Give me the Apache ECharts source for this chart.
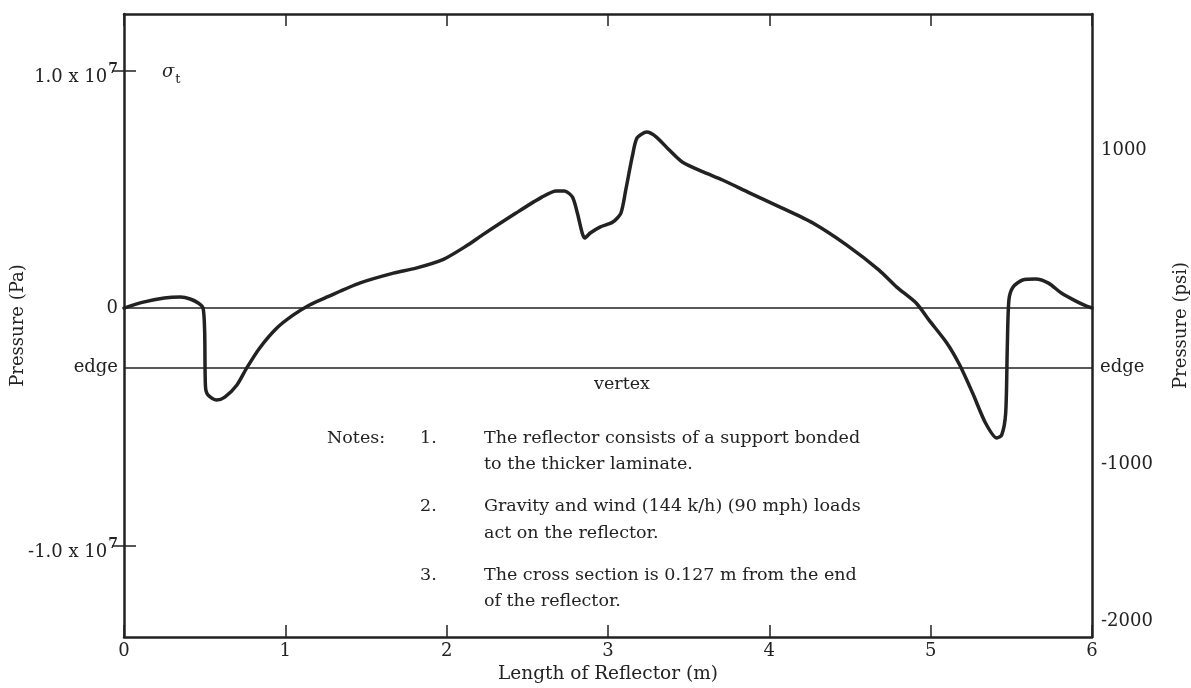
<!DOCTYPE html>
<html>
<head>
<meta charset="utf-8">
<script src="https://cdn.jsdelivr.net/npm/echarts@6/dist/echarts.min.js"></script>
<style>
html,body{margin:0;padding:0;background:#fff;overflow:hidden;}
#chart{width:1191px;height:688px;}
</style>
</head>
<body>
<div id="chart"></div>
<script>
// Length along reflector (m)
const lengthM = [0, 0.12, 0.25, 0.35, 0.41, 0.46, 0.49, 0.50, 0.505, 0.52, 0.574, 0.625, 0.70, 0.76, 0.84, 0.946, 1.05, 1.15, 1.26, 1.46, 1.67, 1.81, 1.98, 2.13, 2.22, 2.43, 2.59, 2.68, 2.73, 2.78, 2.81, 2.84, 2.855, 2.89, 2.95, 3.03, 3.08, 3.11, 3.15, 3.18, 3.24, 3.30, 3.38, 3.46, 3.59, 3.71, 3.88, 4.08, 4.27, 4.48, 4.68, 4.79, 4.91, 4.99, 5.10, 5.18, 5.26, 5.34, 5.41, 5.44, 5.465, 5.475, 5.485, 5.51, 5.57, 5.65, 5.73, 5.81, 5.90, 5.96, 6.0];
// Pressure sigma_t (units of 1e6 Pa)
const pressure = [0, 0.25, 0.42, 0.46, 0.38, 0.21, 0.0, -1.0, -3.3, -3.66, -3.87, -3.75, -3.24, -2.53, -1.69, -0.85, -0.29, 0.13, 0.47, 1.05, 1.47, 1.68, 2.05, 2.65, 3.07, 4.0, 4.67, 4.93, 4.93, 4.67, 4.0, 3.16, 2.95, 3.16, 3.41, 3.62, 4.0, 4.97, 6.36, 7.16, 7.41, 7.2, 6.65, 6.15, 5.73, 5.39, 4.84, 4.21, 3.58, 2.65, 1.6, 0.88, 0.21, -0.51, -1.47, -2.4, -3.58, -4.84, -5.47, -5.35, -4.42, -1.64, 0.34, 0.88, 1.18, 1.22, 1.05, 0.63, 0.29, 0.1, 0];
const xTicks = [0, 1, 2, 3, 4, 5, 6];
const leftLabelValues = [10, 0, -2.5, -10];
const rightPsiLabels = [1000, -1000, -2000];
const edgeLevel = -2.5;
const notes = [
  ["Notes:", "1.", "The reflector consists of a support bonded"],
  ["", "", "to the thicker laminate."],
  ["", "2.", "Gravity and wind (144 k/h) (90 mph) loads"],
  ["", "", "act on the reflector."],
  ["", "3.", "The cross section is 0.127 m from the end"],
  ["", "", "of the reflector."]
];

const FONT = '"DejaVu Serif", "Liberation Serif", serif';
const INK = '#222';
const FS = 18;
const chart = echarts.init(document.getElementById('chart'));
const data = lengthM.map((x, i) => [x, pressure[i]]);

const noteY = [440, 466, 508, 535, 577, 603];
const graphics = [];
notes.forEach((row, i) => {
  const xs = [327, 420, 484];
  row.forEach((t, j) => {
    if (!t) return;
    graphics.push({type: 'text', left: xs[j], top: noteY[i] - 11, silent: true,
      style: {text: t, font: '17.5px ' + FONT, fill: INK}});
  });
});
graphics.push({type: 'text', left: 162, top: 63, silent: true,
  style: {text: '{a|σ}{b|t}', rich: {
    a: {fontFamily: FONT, fontSize: 18, fontStyle: 'italic', fill: INK, padding: [0, 0, 8, 0]},
    b: {fontFamily: FONT, fontSize: 13, fill: INK, padding: [7, 0, 0, 1]}
  }}});

const yMin = -13.85, yMax = 12.38;
const supRich = {
  b: {fontFamily: FONT, fontSize: FS, color: INK, padding: [14, 0, 0, 0]},
  s: {fontFamily: FONT, fontSize: 14, fontWeight: 'bold', color: INK, padding: [0, 0, 3, 1]}
};

chart.setOption({
  backgroundColor: '#fff',
  animation: false,
  grid: {left: 124, right: 99, top: 14, bottom: 51, containLabel: false, outerBoundsMode: 'none'},
  graphic: graphics,
  xAxis: [{
    type: 'value', min: 0, max: 6, interval: 1, position: 'bottom',
    axisLine: {show: true, onZero: false, lineStyle: {color: INK, width: 2.5}},
    axisTick: {show: true, inside: true, length: 12, lineStyle: {color: INK, width: 1.5}},
    axisLabel: {fontFamily: FONT, fontSize: FS, color: INK, margin: 5,
      customValues: xTicks},
    splitLine: {show: false},
    name: 'Length of Reflector (m)', nameLocation: 'middle', nameGap: 28, nameMoveOverlap: false,
    nameTextStyle: {fontFamily: FONT, fontSize: 18.5, color: INK}
  }, {
    type: 'value', min: 0, max: 6, interval: 1, position: 'top',
    axisLine: {show: true, onZero: false, lineStyle: {color: INK, width: 2.5}},
    axisTick: {show: true, inside: true, length: 12, lineStyle: {color: INK, width: 1.5}},
    axisLabel: {show: false}, splitLine: {show: false}
  }],
  yAxis: [{
    type: 'value', min: yMin, max: yMax, position: 'left',
    axisLine: {show: true, onZero: false, lineStyle: {color: INK, width: 2.5}},
    axisTick: {show: true, inside: true, length: 12, customValues: [-10, 10], lineStyle: {color: INK, width: 1.5}},
    axisLabel: {fontFamily: FONT, fontSize: FS, color: INK, margin: 6, customValues: leftLabelValues,
      rich: supRich,
      formatter: v => {
        if (v === 10) return '{b|1.0 x 10}{s|7}';
        if (v === -10) return '{b|-1.0 x 10}{s|7}';
        if (v === edgeLevel) return 'edge';
        return '0';
      }},
    splitLine: {show: false},
    name: 'Pressure (Pa)', nameLocation: 'middle', nameRotate: 90, nameGap: 97, nameMoveOverlap: false,
    nameTextStyle: {fontFamily: FONT, fontSize: FS, color: INK}
  }, {
    type: 'value', min: -2100, max: 1870, position: 'right',
    axisLine: {show: true, onZero: false, lineStyle: {color: INK, width: 2.5}},
    axisTick: {show: false},
    axisLabel: {fontFamily: FONT, fontSize: FS, color: INK, margin: 9, customValues: rightPsiLabels,
      formatter: v => String(v)},
    splitLine: {show: false},
    name: 'Pressure (psi)', nameLocation: 'middle', nameRotate: 90, nameGap: 80,
    nameTextStyle: {fontFamily: FONT, fontSize: FS, color: INK}
  }, {
    type: 'value', min: yMin, max: yMax, position: 'right',
    axisLine: {show: false},
    axisTick: {show: true, inside: true, length: 12, customValues: [-10, 10], lineStyle: {color: INK, width: 1.5}},
    axisLabel: {fontFamily: FONT, fontSize: FS, color: INK, margin: 8, customValues: [edgeLevel], formatter: () => 'edge'},
    splitLine: {show: false}
  }],
  series: [{
    type: 'line', xAxisIndex: 0, yAxisIndex: 0, data: data,
    showSymbol: false, smooth: 0.25, silent: true,
    lineStyle: {color: INK, width: 3.5, join: 'round', cap: 'round'},
    markLine: {
      silent: true, symbol: 'none', animation: false,
      lineStyle: {color: INK, width: 1.5, type: 'solid'},
      data: [
        {yAxis: 0, label: {show: false}},
        {yAxis: edgeLevel, label: {show: true, formatter: 'vertex', position: 'insideMiddleBottom',
          fontFamily: FONT, fontSize: 17.5, color: INK, distance: [0, 8], offset: [14, 0]}}
      ]
    }
  }]
});
</script>
</body>
</html>
